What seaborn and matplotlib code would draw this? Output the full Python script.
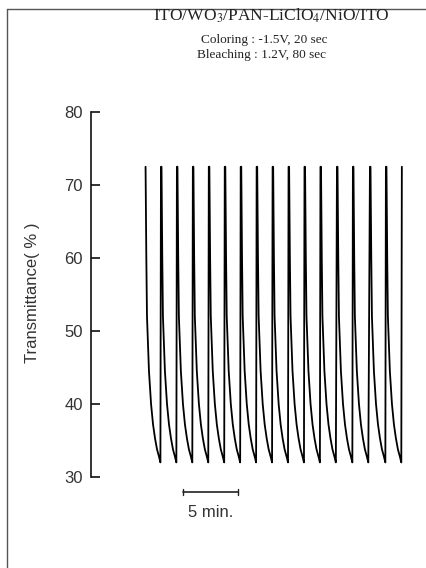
import numpy as np
import pandas as pd
import matplotlib
matplotlib.use('Agg')
import matplotlib.pyplot as plt
import seaborn as sns
from matplotlib.lines import Line2D

# 读图得到的数据 (时间: min, 以第一个峰为0)
peak_times = [0, 1.45, 2.9, 4.35, 5.8, 7.25, 8.7, 10.15, 11.6, 13.05,
              14.5, 15.95, 17.45, 18.9, 20.45, 21.9, 23.35]
peak_value = 72.5
# 每个周期峰后的下降曲线 (相对峰的时间偏移, 透过率)
decay_offsets = [0.05, 0.12, 0.18, 0.36, 0.55, 0.73, 0.91, 1.09, 1.27, 1.40]
decay_values = [72.5, 60.0, 52.0, 44.5, 40.0, 37.2, 35.3, 33.8, 32.8, 32.0]

title = 'ITO/WO$_3$/PAN-LiClO$_4$/NiO/ITO'
cond1 = 'Coloring : -1.5V, 20 sec'
cond2 = 'Bleaching : 1.2V, 80 sec'
y_ticks = [30, 40, 50, 60, 70, 80]

# 拼成一条连续曲线
t_list, v_list = [], []
for i, tp in enumerate(peak_times):
    if i > 0:
        t_list.append(tp)
        v_list.append(peak_value)
    if i < len(peak_times) - 1:
        for off, val in zip(decay_offsets, decay_values):
            t_list.append(tp + off)
            v_list.append(val)
df = pd.DataFrame({'time': t_list, 'T': v_list})

sns.set_style('white')
plt.rcParams['font.family'] = ['Liberation Sans', 'DejaVu Sans']
plt.rcParams['mathtext.fontset'] = 'stix'

fig = plt.figure(figsize=(4.27, 5.68), dpi=100)
ax = fig.add_axes([91/427, 91/568, 329/427, 365/568])

sns.lineplot(data=df, x='time', y='T', sort=False, estimator=None,
             color='black', lw=1.3, ax=ax)

ax.set_xlim(-4.91, 25.0)
ax.set_ylim(30, 80)
ax.set_xticks([])
ax.set_yticks(y_ticks)
ax.set_xlabel('')
ax.set_ylabel('')
for s in ['top', 'right', 'bottom']:
    ax.spines[s].set_visible(False)
ax.spines['left'].set_linewidth(1.2)
ax.spines['left'].set_color('#111111')
ax.tick_params(axis='y', direction='in', length=6.5, width=1.2, pad=6,
               labelsize=12, labelcolor='#333333', color='#111111', left=True)

# 5 min 标尺
ax.plot([3.45, 8.45], [27.95, 27.95], color='#222222', lw=1.2, clip_on=False)
ax.plot([3.45, 3.45], [27.6, 28.3], color='#222222', lw=1.0, clip_on=False)
ax.plot([8.45, 8.45], [27.6, 28.3], color='#222222', lw=1.0, clip_on=False)
ax.text(5.95, 25.2, '5 min.', ha='center', va='center', fontsize=12,
        color='#333333', clip_on=False)

fig.text(33/427, 1 - 293/568, 'Transmittance( % )', rotation=90,
         ha='center', va='center', fontsize=12, color='#333333')

fig.text(271/427, 1 - 16/568, title, ha='center', va='center',
         fontsize=12.5, family='Liberation Serif', color='#222222')
fig.text(264/427, 1 - 40/568, cond1, ha='center', va='center',
         fontsize=9.5, family='Liberation Serif', color='#222222')
fig.text(262/427, 1 - 55/568, cond2, ha='center', va='center',
         fontsize=9.5, family='Liberation Serif', color='#222222')

# 外框 (左边和上边)
fig.add_artist(Line2D([7/427, 7/427], [0, 1 - 9/568], color='#555555', lw=1.0))
fig.add_artist(Line2D([7/427, 1], [1 - 9/568, 1 - 9/568], color='#555555', lw=1.0))

fig.savefig('out.png', dpi=100)
